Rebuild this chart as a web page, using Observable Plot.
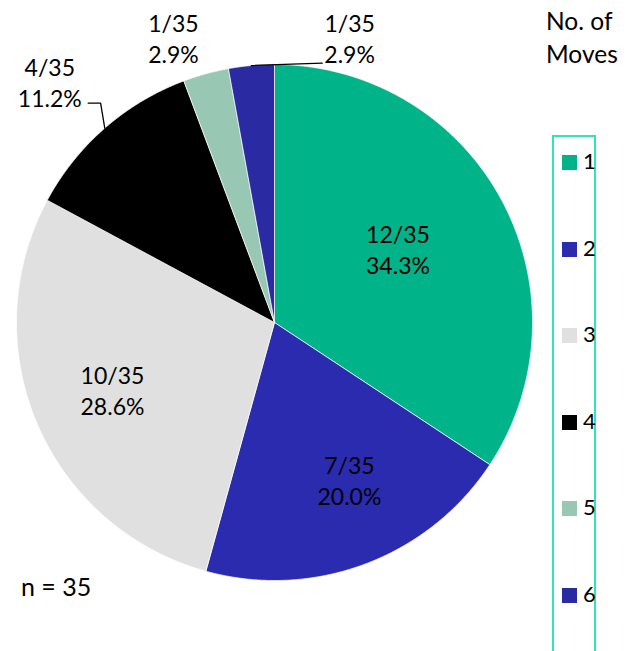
<!DOCTYPE html>
<html>
<head>
<meta charset="utf-8">
<script src="https://cdn.jsdelivr.net/npm/d3@7"></script>
<script src="https://cdn.jsdelivr.net/npm/@observablehq/plot@0.6"></script>
<style>
  html, body { margin: 0; padding: 0; background: white; }
  #wrap { position: relative; width: 627px; height: 651px; overflow: hidden; font-family: Lato, sans-serif; color: #000; }
  #wrap svg { position: absolute; left: 0; top: 0; }
  #title { position: absolute; left: 546px; top: 4px; font-size: 24.5px; line-height: 33px; }
  #note { position: absolute; left: 21px; top: 574px; font-size: 25px; line-height: 25px; }
  #legend { position: absolute; left: 552px; top: 135px; width: 40px; height: 540px; border: 2px solid #33E3B6; }
  .item { position: absolute; left: 8px; height: 15px; }
  .sw { position: absolute; left: 0; top: 0; width: 15px; height: 15px; }
  .lb { position: absolute; left: 21px; top: -6px; font-size: 22px; line-height: 24px; }
</style>
</head>
<body>
<div id="wrap"></div>
<script>
// ---- data ----
const categories = ["1", "2", "3", "4", "5", "6"];
const counts = [12, 7, 10, 4, 1, 1];
const total = 35;
const pctLabels = ["34.3%", "20.0%", "28.6%", "11.2%", "2.9%", "2.9%"];
const colors = ["#00B388", "#2B2BAF", "#E0E0E0", "#000000", "#98C8B3", "#2A2AA3"];

// ---- label layout (relative to slice mid-angle, in radius units) ----
const labelAngleShift = [-2.5, -5, 0.6, -1.9, -4.1, 19.9]; // degrees
const labelRadius = [0.557, 0.673, 0.68, 1.276, 1.172, 1.143];
const leaderBends = { 3: [[-0.674, 0.85], [-0.722, 0.85]], 5: [[0.185, 1.005]] };

const rows = categories.map((c, i) => ({ cat: c, count: counts[i], i }));
const arcs = d3.pie().sort(null).value(d => d.count)(rows);

const slicePts = [];
arcs.forEach(a => {
  const n = Math.max(2, Math.ceil((a.endAngle - a.startAngle) / 0.004));
  slicePts.push({ cat: a.data.cat, x: 0, y: 0 });
  for (let k = 0; k <= n; k++) {
    const t = a.startAngle + (a.endAngle - a.startAngle) * k / n;
    slicePts.push({ cat: a.data.cat, x: Math.sin(t), y: Math.cos(t) });
  }
  slicePts.push({ cat: a.data.cat, x: 0, y: 0 });
});

const labels = arcs.map((a, i) => {
  const mid = (a.startAngle + a.endAngle) / 2 + labelAngleShift[i] * Math.PI / 180;
  const r = labelRadius[i];
  return { x: r * Math.sin(mid), y: r * Math.cos(mid), text: `${counts[i]}/${total}\n${pctLabels[i]}` };
});

const leaderPts = [];
Object.keys(leaderBends).forEach(k => {
  const a = arcs[+k];
  const mid = (a.startAngle + a.endAngle) / 2;
  leaderPts.push({ id: k, x: Math.sin(mid), y: Math.cos(mid) });
  leaderBends[k].forEach(p => leaderPts.push({ id: k, x: p[0], y: p[1] }));
});

const plot = Plot.plot({
  width: 627,
  height: 651,
  marginLeft: 16,
  marginRight: 95,
  marginTop: 64,
  marginBottom: 71,
  x: { domain: [-1, 1], axis: null },
  y: { domain: [-1, 1], axis: null },
  color: { type: "ordinal", domain: categories, range: colors },
  style: { fontFamily: "Lato, sans-serif", fontSize: "23px", background: "transparent", overflow: "visible" },
  marks: [
    Plot.line(slicePts, { x: "x", y: "y", z: "cat", fill: "cat", stroke: "white", strokeWidth: 0.7, curve: "linear" }),
    Plot.line(leaderPts, { x: "x", y: "y", z: "id", stroke: "black", strokeWidth: 1.3 }),
    Plot.text(labels, { x: "x", y: "y", text: "text", fontSize: 23, lineHeight: 1.35, fill: "black" })
  ]
});

const wrap = document.getElementById("wrap");
wrap.appendChild(plot);

const title = document.createElement("div");
title.id = "title";
title.innerHTML = "No. of<br>Moves";
wrap.appendChild(title);

const note = document.createElement("div");
note.id = "note";
note.textContent = "n = 35";
wrap.appendChild(note);

const color = plot.scale("color");
const legend = document.createElement("div");
legend.id = "legend";
color.domain.forEach((c, i) => {
  const item = document.createElement("div");
  item.className = "item";
  item.style.top = (18 + 86.6 * i) + "px";
  const sw = document.createElement("div");
  sw.className = "sw";
  sw.style.background = color.range[i];
  const lb = document.createElement("div");
  lb.className = "lb";
  lb.textContent = c;
  item.appendChild(sw);
  item.appendChild(lb);
  legend.appendChild(item);
});
wrap.appendChild(legend);
</script>
</body>
</html>
